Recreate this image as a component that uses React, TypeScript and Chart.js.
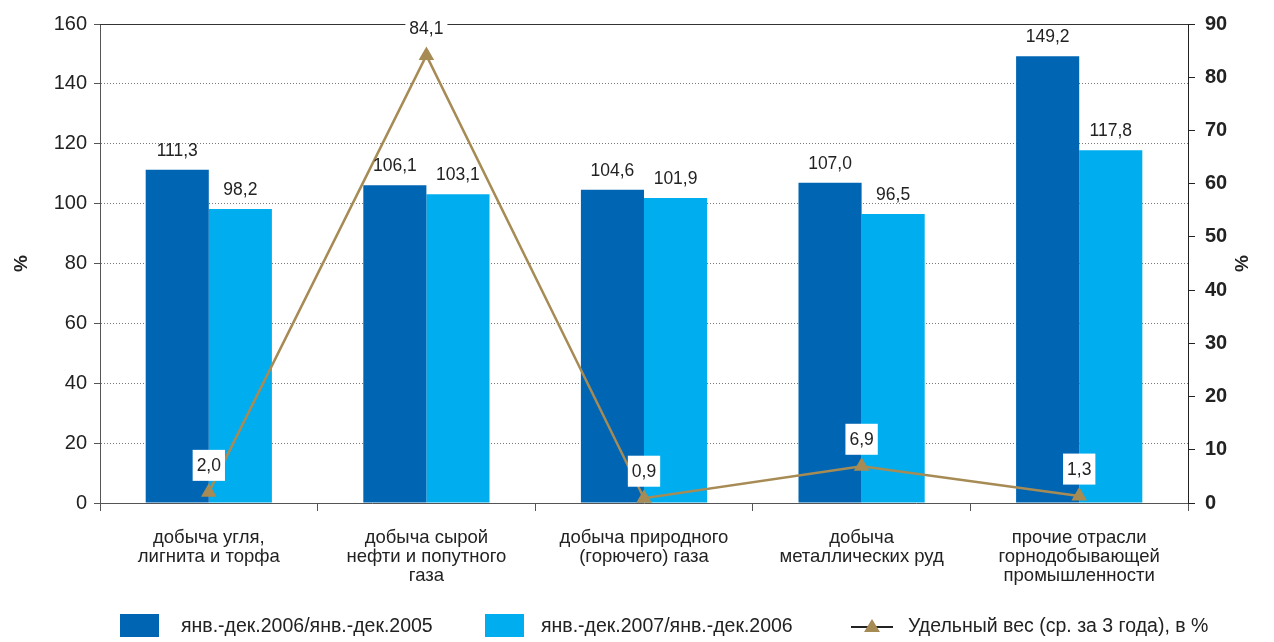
import React, { useEffect, useRef } from "react";
import { Chart, registerables } from "chart.js";

Chart.register(...registerables);

const categories: string[][] = [
  ["добыча угля,", "лигнита и торфа"],
  ["добыча сырой", "нефти и попутного", "газа"],
  ["добыча природного", "(горючего) газа"],
  ["добыча", "металлических руд"],
  ["прочие отрасли", "горнодобывающей", "промышленности"],
];
const series2006: number[] = [111.3, 106.1, 104.6, 107.0, 149.2];
const series2007: number[] = [98.2, 103.1, 101.9, 96.5, 117.8];
const shareSeries: number[] = [2.0, 84.1, 0.9, 6.9, 1.3];
const legendLabels: string[] = [
  "янв.-дек.2006/янв.-дек.2005",
  "янв.-дек.2007/янв.-дек.2006",
  "Удельный вес (ср. за 3 года), в %",
];

const DARK = "#0066b3";
const LIGHT = "#00aeef";
const OLIVE = "#a68b55";
const TEXT = "#222";
const FONT = '"Liberation Sans", Arial, Helvetica, sans-serif';

const fmt = (v: number) => v.toFixed(1).replace(".", ",");

const decorPlugin = {
  id: "decor",
  beforeDatasetsDraw(chart: any) {
    const { ctx, chartArea } = chart;
    ctx.save();
    ctx.strokeStyle = "#333";
    ctx.lineWidth = 1;
    ctx.beginPath();
    ctx.moveTo(chartArea.left, chartArea.top + 0.5);
    ctx.lineTo(chartArea.right, chartArea.top + 0.5);
    ctx.stroke();
    ctx.restore();
  },
  afterDatasetsDraw(chart: any) {
    const { ctx } = chart;
    ctx.save();
    ctx.font = `17.5px ${FONT}`;
    ctx.textAlign = "center";
    ctx.textBaseline = "alphabetic";
    ctx.fillStyle = TEXT;
    [0, 1].forEach((di) => {
      const meta = chart.getDatasetMeta(di);
      const data = chart.data.datasets[di].data as number[];
      meta.data.forEach((el: any, i: number) => {
        ctx.fillText(fmt(data[i]), el.x, el.y - 14);
      });
    });
    const lm = chart.getDatasetMeta(2);
    const ld = chart.data.datasets[2].data as number[];
    ctx.textBaseline = "middle";
    lm.data.forEach((el: any, i: number) => {
      const t = fmt(ld[i]);
      const w = ctx.measureText(t).width + 8;
      const h = 31;
      const cy = el.y - 27;
      ctx.fillStyle = "#fff";
      ctx.fillRect(el.x - w / 2, cy - h / 2, w, h);
      ctx.fillStyle = TEXT;
      ctx.fillText(t, el.x, cy + 1);
    });
    ctx.restore();
  },
  afterDraw(chart: any) {
    const { ctx, chartArea } = chart;
    ctx.save();
    // axis titles
    ctx.font = `bold 19px ${FONT}`;
    ctx.fillStyle = TEXT;
    ctx.textAlign = "center";
    ctx.textBaseline = "middle";
    const midY = (chartArea.top + chartArea.bottom) / 2;
    [22, 1243].forEach((x) => {
      ctx.save();
      ctx.translate(x, midY);
      ctx.rotate(-Math.PI / 2);
      ctx.fillText("%", 0, 0);
      ctx.restore();
    });
    // legend
    const ly = 627;
    ctx.font = `19.5px ${FONT}`;
    ctx.textAlign = "left";
    ctx.fillStyle = DARK;
    ctx.fillRect(120, 614, 39, 23);
    ctx.fillStyle = TEXT;
    ctx.fillText(legendLabels[0], 181, ly);
    ctx.fillStyle = LIGHT;
    ctx.fillRect(485, 614, 39, 23);
    ctx.fillStyle = TEXT;
    ctx.fillText(legendLabels[1], 541, ly);
    ctx.strokeStyle = "#222";
    ctx.lineWidth = 2;
    ctx.beginPath();
    ctx.moveTo(851, ly);
    ctx.lineTo(893, ly);
    ctx.stroke();
    ctx.fillStyle = OLIVE;
    ctx.beginPath();
    ctx.moveTo(872, ly - 8);
    ctx.lineTo(880, ly + 5);
    ctx.lineTo(864, ly + 5);
    ctx.closePath();
    ctx.fill();
    ctx.fillStyle = TEXT;
    ctx.fillText(legendLabels[2], 908, ly);
    ctx.restore();
  },
};

export default function App() {
  const ref = useRef<HTMLCanvasElement | null>(null);
  useEffect(() => {
    if (!ref.current) return;
    const chart = new Chart(ref.current, {
      type: "bar",
      data: {
        labels: categories as any,
        datasets: [
          {
            label: legendLabels[0],
            data: series2006,
            backgroundColor: DARK,
            order: 1,
            yAxisID: "y",
            categoryPercentage: 0.58,
            barPercentage: 1.0,
          } as any,
          {
            label: legendLabels[1],
            data: series2007,
            backgroundColor: LIGHT,
            order: 2,
            yAxisID: "y",
            categoryPercentage: 0.58,
            barPercentage: 1.0,
          } as any,
          {
            type: "line",
            label: legendLabels[2],
            data: shareSeries,
            borderColor: OLIVE,
            backgroundColor: OLIVE,
            borderWidth: 2.5,
            pointStyle: "triangle",
            pointRadius: 9,
            pointBackgroundColor: OLIVE,
            pointBorderColor: OLIVE,
            pointBorderWidth: 0,
            order: 0,
            yAxisID: "y1",
            tension: 0,
          } as any,
        ],
      },
      options: {
        responsive: false,
        animation: false,
        layout: { padding: { top: 24, left: 0, right: 0, bottom: 0 } },
        plugins: {
          legend: { display: false },
          tooltip: { enabled: false },
        },
        scales: {
          x: {
            offset: true,
            grid: {
              offset: true,
              drawOnChartArea: false,
              tickLength: 8,
              color: "#555",
            },
            border: { color: "#555" },
            ticks: {
              font: { family: FONT, size: 18.5, lineHeight: 1.03 },
              color: TEXT,
              padding: 17,
              maxRotation: 0,
              autoSkip: false,
            },
            afterFit: (s: any) => {
              s.height = 139;
            },
          },
          y: {
            position: "left",
            min: 0,
            max: 160,
            ticks: {
              stepSize: 20,
              font: { family: FONT, size: 20 },
              color: TEXT,
              padding: 7,
            },
            grid: {
              color: (c: any) =>
                c.tick && (c.tick.value === 0 || c.tick.value === 160) ? "rgba(0,0,0,0)" : "#777",
              tickColor: "#555",
              tickLength: 6,
              lineWidth: 1,
            },
            border: { color: "#555", dash: [1, 2] },
            afterFit: (s: any) => {
              s.width = 100;
            },
          },
          y1: {
            position: "right",
            min: 0,
            max: 90,
            ticks: {
              stepSize: 10,
              font: { family: FONT, size: 20, weight: "bold" },
              color: TEXT,
              padding: 10,
            },
            grid: {
              drawOnChartArea: false,
              tickColor: "#222",
              tickLength: 7,
            },
            border: { color: "#222" },
            afterFit: (s: any) => {
              s.width = 86;
            },
          },
        },
      } as any,
      plugins: [decorPlugin],
    });
    return () => chart.destroy();
  }, []);
  return (
    <div style={{ position: "fixed", left: 0, top: 0, width: 1274, height: 642, background: "#fff" }}>
      <canvas ref={ref} width={1274} height={642} style={{ display: "block" }} />
    </div>
  );
}
